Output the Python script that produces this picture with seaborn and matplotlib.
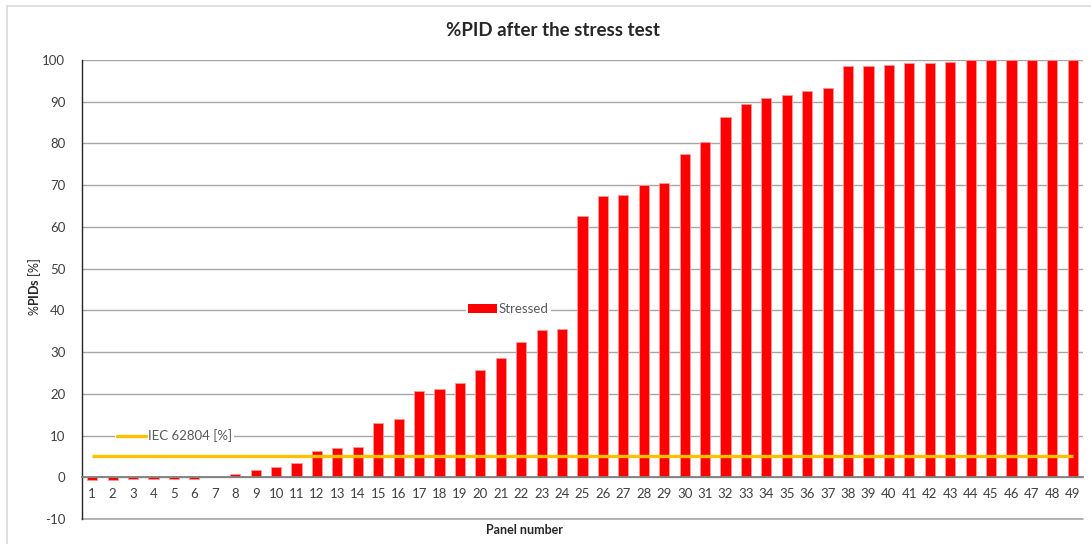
"""%PID after the stress test: bar chart of stressed panels with IEC threshold."""
import matplotlib
matplotlib.use("Agg")
import matplotlib.pyplot as plt
from matplotlib.patches import Patch, Rectangle
from matplotlib.lines import Line2D
from matplotlib.ticker import MultipleLocator
import numpy as np
import pandas as pd
import seaborn as sns

panels = [str(i) for i in range(1, 50)]
stressed = [-0.7, -0.7, -0.4, -0.4, -0.4, -0.4, 0.0, 0.9, 1.7, 2.5,
            3.5, 6.2, 6.9, 7.2, 13.0, 14.0, 20.6, 21.2, 22.7, 25.8,
            28.6, 32.5, 35.4, 35.6, 62.6, 67.3, 67.6, 70.0, 70.6, 77.4,
            80.3, 86.3, 89.4, 90.9, 91.7, 92.5, 93.2, 98.5, 98.5, 98.7,
            99.2, 99.2, 99.5, 100, 100, 100, 100, 100, 100]
iec_limit = [5.0] * len(panels)

sns.set_style("white")
plt.rcParams["font.family"] = ["Lato", "DejaVu Sans"]
plt.rcParams["mathtext.fontset"] = "custom"
plt.rcParams["mathtext.rm"] = "Lato"
plt.rcParams["mathtext.bf"] = "Lato:bold"
plt.rcParams["axes.unicode_minus"] = False

RED = "#FF0000"
GOLD = "#FFC000"
GRID = "#A6A6A6"
TXT = "#404040"

df = pd.DataFrame({"panel": panels, "stressed": stressed, "iec": iec_limit})

fig = plt.figure(figsize=(10.91, 5.44), dpi=100)
ax = fig.add_axes([82 / 1091, 1 - 519 / 544, 1001 / 1091, 459 / 544])

# chart area border (only top/left visible in the crop)
fig.patches.append(Rectangle((7 / 1091, -0.1), 1.2, 1 - 6 / 544 + 0.1,
                             transform=fig.transFigure, fill=False,
                             edgecolor="#D9D9D9", lw=1.2))

sns.barplot(data=df, x="panel", y="stressed", order=panels, color=RED,
            saturation=1, width=0.5, edgecolor="#FF9999", linewidth=0.6,
            ax=ax, zorder=3)
ax.plot(np.arange(len(panels)), df["iec"], color=GOLD, lw=2.4,
        solid_capstyle="butt", zorder=4)

ax.set_xlim(-0.5, len(panels) - 0.5)
ax.set_ylim(-10, 100)
ax.yaxis.set_major_locator(MultipleLocator(10))
ax.yaxis.set_minor_locator(MultipleLocator(5))
ax.grid(axis="y", which="major", color=GRID, lw=1.0, zorder=0)
ax.axhline(-10, color=GRID, lw=1.2, clip_on=False, zorder=1)
ax.set_axisbelow(True)

for side in ["top", "right"]:
    ax.spines[side].set_visible(False)
ax.spines["bottom"].set_position(("data", 0))
ax.spines["bottom"].set_color("#808080")
ax.spines["bottom"].set_linewidth(1.3)
ax.spines["bottom"].set_zorder(5)
ax.spines["left"].set_color("#262626")
ax.spines["left"].set_linewidth(1.0)

ax.tick_params(axis="x", length=0, pad=8, labelsize=9.5, labelcolor=TXT)
ax.tick_params(axis="y", which="major", direction="out", length=4,
               width=1, color="#262626", labelsize=9.5, labelcolor=TXT, pad=8)
ax.tick_params(axis="y", which="minor", direction="inout", length=6,
               width=1, color="#262626")
ax.set_xlabel("")
ax.set_ylabel("")

fig.text(553 / 1091, 1 - 31 / 544, "%PID after the stress test",
         ha="center", va="center", fontsize=13.5, fontweight="bold")
fig.text(524 / 1091, 1 - 530 / 544, "Panel number", ha="center",
         va="center", fontsize=9, fontweight="bold", color="#262626")
fig.text(35 / 1091, 1 - 287 / 544, r"%$\mathbf{PIDs}$ [%]", ha="center",
         va="center", rotation=90, fontsize=9, color="#262626")

leg1 = ax.legend(handles=[Patch(facecolor=RED, edgecolor="none")],
                 labels=["Stressed"], loc="center left",
                 bbox_to_anchor=((466 - 82) / 1001, (519 - 309) / 459),
                 frameon=True, framealpha=1, edgecolor="none",
                 fontsize=9.5, handlelength=2.2, handleheight=0.6,
                 handletextpad=0.15, borderpad=0.15, borderaxespad=0,
                 labelcolor="#595959", fancybox=False)
leg1.set_zorder(6)
ax.add_artist(leg1)
leg2 = ax.legend(handles=[Line2D([], [], color=GOLD, lw=2.4)],
                 labels=["IEC 62804 [%]"], loc="center left",
                 bbox_to_anchor=((115 - 82) / 1001, (519 - 436) / 459),
                 frameon=True, framealpha=1, edgecolor="none",
                 fontsize=9.5, handlelength=2.2, handletextpad=0.15,
                 borderpad=0.15, borderaxespad=0, labelcolor="#595959",
                 fancybox=False)
leg2.set_zorder(6)

fig.savefig("out.png", dpi=100)
plt.close(fig)
